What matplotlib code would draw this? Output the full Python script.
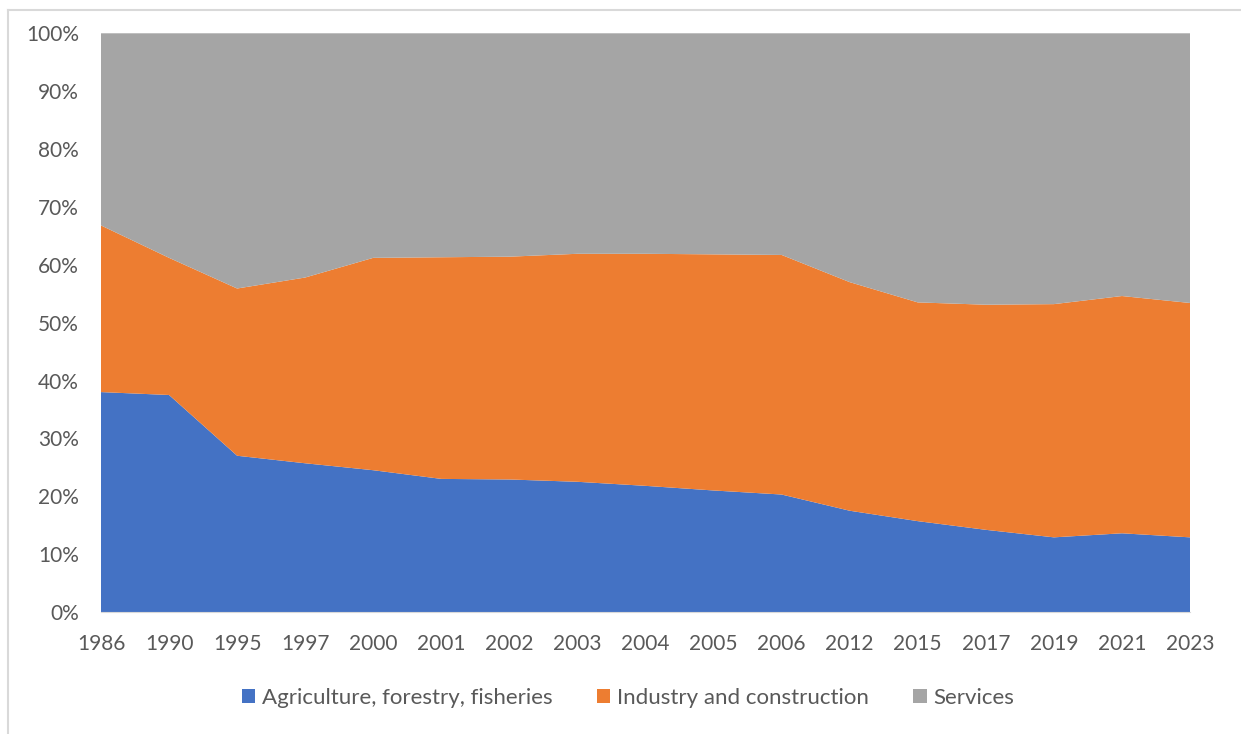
import matplotlib
matplotlib.use("Agg")
from matplotlib import pyplot as plt
from matplotlib.lines import Line2D
from matplotlib.ticker import PercentFormatter

years = ['1986', '1990', '1995', '1997', '2000', '2001', '2002', '2003', '2004',
         '2005', '2006', '2012', '2015', '2017', '2019', '2021', '2023']

# shares of GDP (%)
agriculture = [38.0, 37.5, 27.0, 25.7, 24.5, 23.0, 22.9, 22.5, 21.8,
               21.0, 20.3, 17.5, 15.7, 14.2, 12.9, 13.6, 12.9]
industry = [28.8, 23.7, 28.9, 32.1, 36.7, 38.3, 38.5, 39.4, 40.1,
            40.8, 41.4, 39.5, 37.8, 38.9, 40.3, 41.0, 40.5]
services = [33.2, 38.8, 44.1, 42.2, 38.8, 38.7, 38.6, 38.1, 38.1,
            38.2, 38.3, 43.0, 46.5, 46.9, 46.8, 45.4, 46.6]

labels = ['Agriculture, forestry, fisheries', 'Industry and construction', 'Services']
colors = ['#4472C4', '#ED7D31', '#A5A5A5']

plt.rcParams['font.family'] = ['Lato', 'DejaVu Sans']

fig = plt.figure(figsize=(12.41, 7.34), dpi=100)
ax = fig.add_axes([101 / 1241, 1 - 612 / 734, (1190 - 101) / 1241, (612 - 33.3) / 734])

x = list(range(len(years)))
ax.stackplot(x, agriculture, industry, services, colors=colors, labels=labels, linewidth=0)

ax.set_xlim(0, len(years) - 1)
ax.set_ylim(0, 100)
ax.set_yticks(range(0, 101, 10))
ax.yaxis.set_major_formatter(PercentFormatter(decimals=0))
ax.set_xticks(x)
ax.set_xticklabels(years)
ax.tick_params(axis='both', length=0, labelsize=15, colors='#595959')
ax.tick_params(axis='x', pad=16)
ax.tick_params(axis='y', pad=16)
for s in ['top', 'right', 'left']:
    ax.spines[s].set_visible(False)
ax.spines['bottom'].set_color('#D9D9D9')

leg = fig.legend(loc='center', bbox_to_anchor=(628 / 1241, 1 - 698 / 734), ncol=3,
                 frameon=False, fontsize=16, handlelength=0.6, handleheight=0.6,
                 handletextpad=0.3, columnspacing=2.0)
for t in leg.get_texts():
    t.set_color('#595959')

# chart area border (partly visible)
fig.add_artist(Line2D([8 / 1241, 8 / 1241], [0, 1 - 10 / 734], transform=fig.transFigure,
                      color='#D9D9D9', lw=1.5))
fig.add_artist(Line2D([8 / 1241, 1], [1 - 10 / 734, 1 - 10 / 734], transform=fig.transFigure,
                      color='#D9D9D9', lw=1.5))

fig.savefig('out.png', dpi=100)
